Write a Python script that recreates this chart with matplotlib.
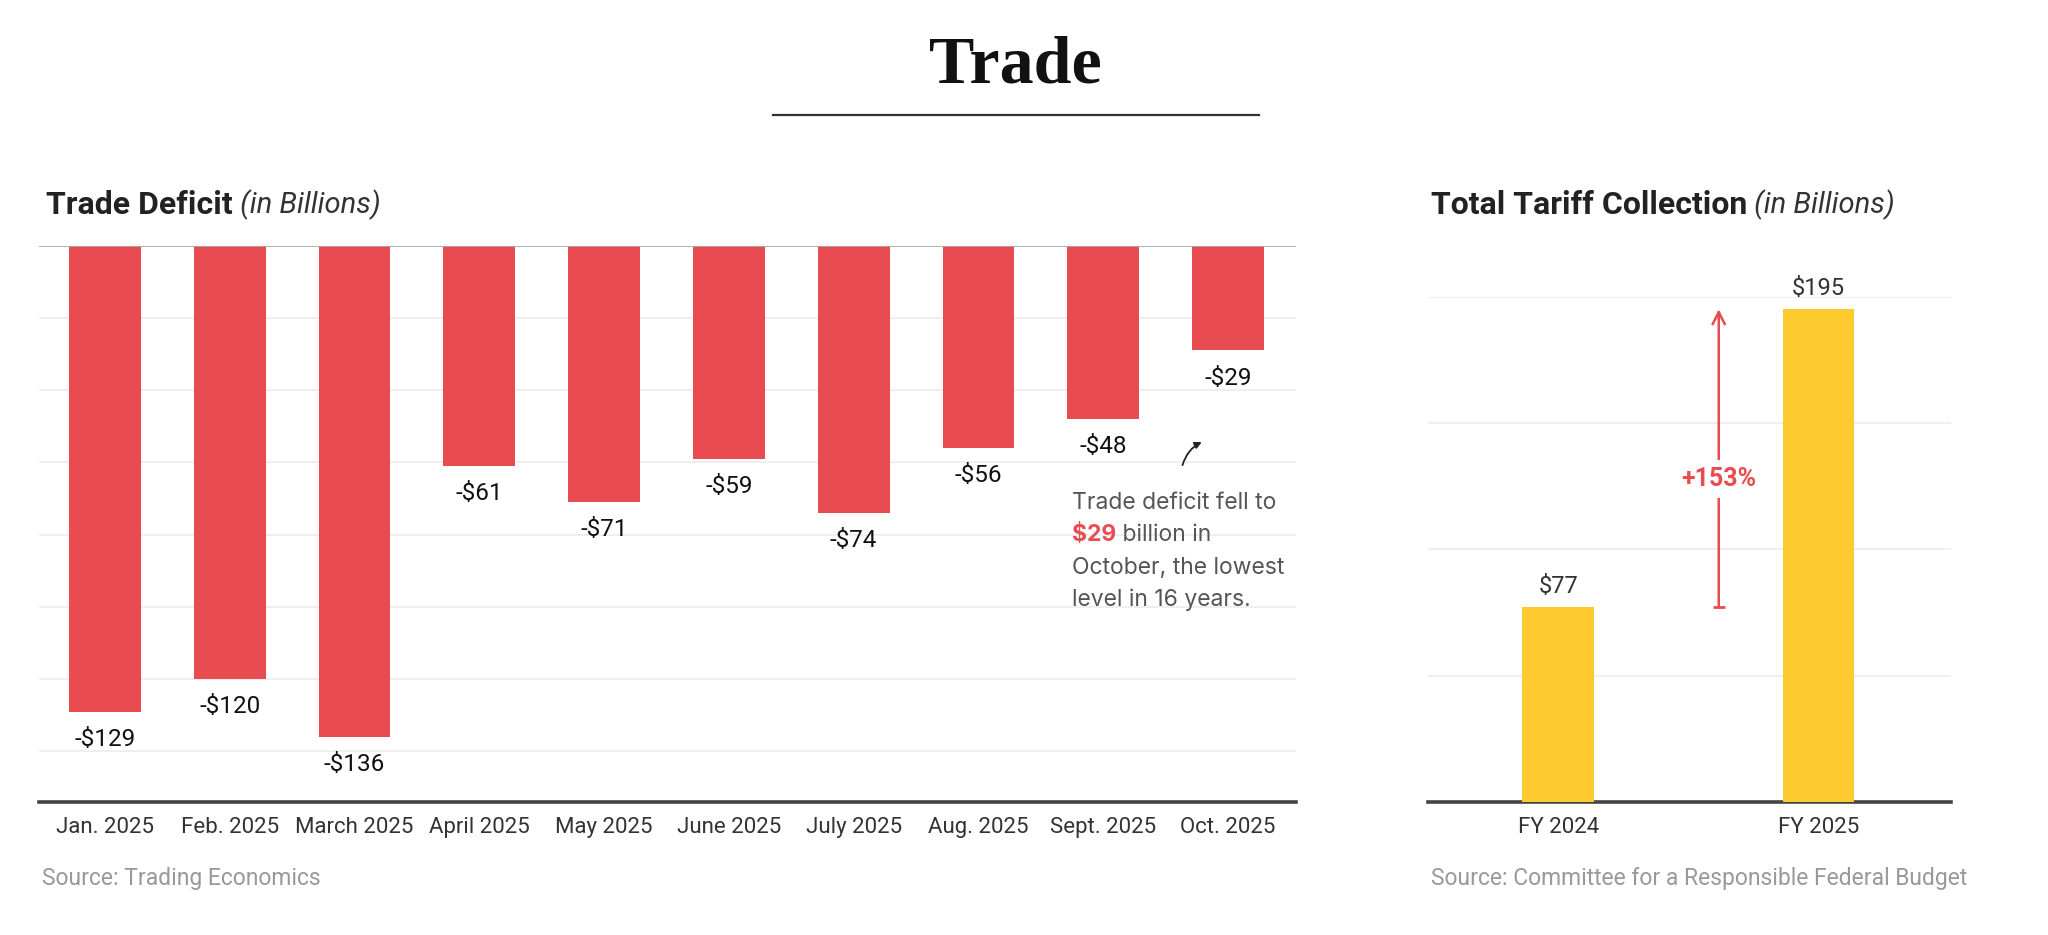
import matplotlib
matplotlib.use("Agg")
import matplotlib.pyplot as plt

# data
months = ["Jan. 2025", "Feb. 2025", "March 2025", "April 2025", "May 2025",
          "June 2025", "July 2025", "Aug. 2025", "Sept. 2025", "Oct. 2025"]
deficit = [-129, -120, -136, -61, -71, -59, -74, -56, -48, -29]
years = ["FY 2024", "FY 2025"]
tariffs = [77, 195]
pct_change = "+153%"

RED = "#e84c50"
YELLOW = "#fdca2f"
GRID = "#ececec"

plt.rcParams['font.family'] = ['Roboto', 'DejaVu Sans']

fig = plt.figure(figsize=(20.48, 9.35), dpi=100)

# title
fig.text(0.496, 0.929, "Trade", ha="center", va="center", fontsize=49,
         fontweight="bold", family="Liberation Serif", color="#111")
fig.add_artist(plt.Line2D([0.3774, 0.6147], [0.877, 0.877], color="#333", lw=1.6))

# ---- left chart: trade deficit
ax = fig.add_axes([0.019, 0.1422, 0.6138, 0.5951])
x = range(len(months))
ax.bar(x, deficit, width=0.575, color=RED, zorder=3)
ax.set_xlim(-0.53, 9.545)
ax.set_ylim(-154, 0)
ax.set_yticks(range(-140, 0, 20))
ax.yaxis.grid(True, color=GRID, lw=1.2, zorder=0)
ax.tick_params(axis="y", left=False, labelleft=False)
ax.tick_params(axis="x", length=0, pad=11, labelsize=16, labelcolor="#333")
ax.set_xticks(list(x))
ax.set_xticklabels(months)
for s in ["top", "left", "right"]:
    ax.spines[s].set_visible(False)
ax.spines["bottom"].set_color("#444")
ax.spines["bottom"].set_linewidth(2.6)
ax.axhline(0, color="#aaa", lw=1.3, zorder=4)

for i, v in enumerate(deficit):
    ax.annotate("-$%d" % abs(v), (i, v), xytext=(0, -20), textcoords="offset points",
                ha="center", va="center", fontsize=17.5, color="#111")

# note on October
note_x = 7.75
note_y = [-71.1, -80.1, -89.1, -98.1]
ncol = "#555"
nfam = ['Inter', 'DejaVu Sans']
nsize = 16.5
ax.text(note_x, note_y[0], "Trade deficit fell to", va="center", fontsize=nsize,
        color=ncol, family=nfam)
t29 = ax.text(note_x, note_y[1], "$29", va="center", fontsize=nsize, color=RED,
              fontweight="bold", family=nfam)
ax.annotate(" billion in", xy=(1, 0.5), xycoords=t29, va="center", fontsize=nsize,
            color=ncol, family=nfam)
ax.text(note_x, note_y[2], "October, the lowest", va="center", fontsize=nsize,
        color=ncol, family=nfam)
ax.text(note_x, note_y[3], "level in 16 years.", va="center", fontsize=nsize,
        color=ncol, family=nfam)
ax.annotate("", xy=(8.81, -54), xytext=(8.63, -61.5),
            arrowprops=dict(arrowstyle="-|>", color="#222", lw=1.3,
                            connectionstyle="arc3,rad=-0.25", mutation_scale=10))

# ---- right chart: tariffs
ax2 = fig.add_axes([0.6973, 0.1422, 0.2554, 0.5406])
xr = range(len(years))
ax2.bar(xr, tariffs, width=0.275, color=YELLOW, zorder=3)
ax2.set_xlim(-0.5, 1.51)
ax2.set_ylim(0, 200)
ax2.set_yticks([50, 100, 150, 200])
ax2.yaxis.grid(True, color=GRID, lw=1.2, zorder=0)
ax2.tick_params(axis="y", left=False, labelleft=False)
ax2.tick_params(axis="x", length=0, pad=11, labelsize=16, labelcolor="#333")
ax2.set_xticks(list(xr))
ax2.set_xticklabels(years)
for s in ["top", "left", "right"]:
    ax2.spines[s].set_visible(False)
ax2.spines["bottom"].set_color("#444")
ax2.spines["bottom"].set_linewidth(2.6)

for i, v in enumerate(tariffs):
    ax2.annotate("$%d" % v, (i, v), xytext=(0, 15), textcoords="offset points",
                 ha="center", va="center", fontsize=17, color="#333", clip_on=False)

ax_x = 0.617
ax2.annotate("", xy=(ax_x, tariffs[1]), xytext=(ax_x, tariffs[0]),
             arrowprops=dict(arrowstyle="->", color=RED, lw=1.8, mutation_scale=22,
                             shrinkA=0, shrinkB=0))
ax2.plot([ax_x], [tariffs[0]], marker="_", ms=9, mew=2, color=RED, zorder=5)
ax2.text(ax_x, 128, pct_change, ha="center", va="center", fontsize=18,
         fontweight="bold", color=RED, zorder=6,
         bbox=dict(facecolor="white", edgecolor="none", pad=5))

# headers
def header(xf, title):
    t = fig.text(xf, 0.7807, title, fontsize=23, fontweight="bold",
                 color="#222", va="center")
    plt.annotate(" (in Billions)", xy=(1, 0.5), xycoords=t, va="center",
                 fontsize=21, fontstyle="italic", color="#333",
                 annotation_clip=False)

header(0.0225, "Trade Deficit")
header(0.6987, "Total Tariff Collection")

# sources
fig.text(0.0205, 0.0599, "Source: Trading Economics", fontsize=16.5, color="#999",
         va="center")
fig.text(0.6987, 0.0599, "Source: Committee for a Responsible Federal Budget",
         fontsize=16.5, color="#999", va="center")

fig.savefig("out.png", dpi=100)
